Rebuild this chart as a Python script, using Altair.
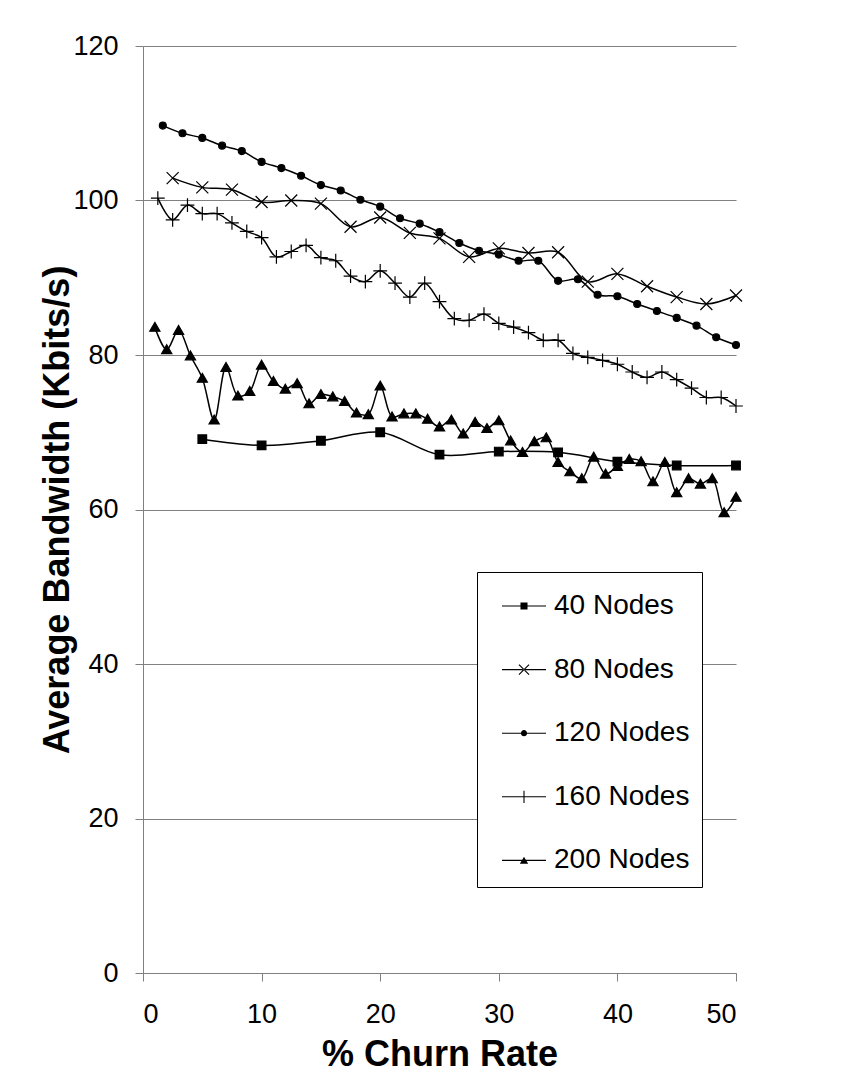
import altair as alt
import pandas as pd

series_names = ["40 Nodes", "80 Nodes", "120 Nodes", "160 Nodes", "200 Nodes"]

x40 = [5, 10, 15, 20, 25, 30, 35, 40, 45, 50]
y40 = [69.1, 68.3, 68.9, 70.0, 67.1, 67.5, 67.4, 66.2, 65.7, 65.7]

x80 = [2.5, 5, 7.5, 10, 12.5, 15, 17.5, 20, 22.5, 25, 27.5, 30, 32.5, 35, 37.5, 40,
       42.5, 45, 47.5, 50]
y80 = [102.9, 101.7, 101.4, 99.8, 100.0, 99.6, 96.6, 97.8, 95.8, 95.1, 92.7, 93.8,
       93.2, 93.3, 89.5, 90.5, 88.9, 87.5, 86.6, 87.7]

x120 = [1.67, 3.33, 5, 6.67, 8.33, 10, 11.67, 13.33, 15, 16.67, 18.33, 20, 21.67,
        23.33, 25, 26.67, 28.33, 30, 31.67, 33.33, 35, 36.67, 38.33, 40, 41.67, 43.33,
        45, 46.67, 48.33, 50]
y120 = [109.7, 108.7, 108.1, 107.1, 106.4, 105.0, 104.2, 103.2, 102.0, 101.3, 100.1,
        99.2, 97.7, 97.0, 95.9, 94.5, 93.5, 93.0, 92.2, 92.2, 89.6, 89.8, 87.8, 87.6,
        86.6, 85.7, 84.8, 83.8, 82.3, 81.3]

x160 = [1.25, 2.5, 3.75, 5, 6.25, 7.5, 8.75, 10, 11.25, 12.5, 13.75, 15, 16.25, 17.5,
        18.75, 20, 21.25, 22.5, 23.75, 25, 26.25, 27.5, 28.75, 30, 31.25, 32.5, 33.75,
        35, 36.25, 37.5, 38.75, 40, 41.25, 42.5, 43.75, 45, 46.25, 47.5, 48.75, 50]
y160 = [100.3, 97.5, 99.4, 98.3, 98.3, 97.1, 96.0, 95.2, 92.7, 93.4, 94.2, 92.6, 92.2,
        90.2, 89.5, 90.9, 89.3, 87.5, 89.3, 86.9, 84.7, 84.5, 85.3, 84.1, 83.6, 82.9,
        81.9, 81.9, 80.2, 79.7, 79.3, 78.8, 77.8, 77.1, 77.8, 76.8, 75.7, 74.5, 74.5,
        73.4]

x200 = [1, 2, 3, 4, 5, 6, 7, 8, 9, 10, 11, 12, 13, 14, 15, 16, 17, 18, 19, 20, 21, 22,
        23, 24, 25, 26, 27, 28, 29, 30, 31, 32, 33, 34, 35, 36, 37, 38, 39, 40, 41, 42,
        43, 44, 45, 46, 47, 48, 49, 50]
y200 = [83.6, 80.7, 83.2, 79.9, 77.0, 71.6, 78.4, 74.7, 75.3, 78.7, 76.6, 75.6, 76.3,
        73.7, 74.9, 74.6, 74.0, 72.5, 72.3, 76.0, 72.0, 72.4, 72.4, 71.7, 70.7, 71.6,
        69.8, 71.3, 70.5, 71.5, 68.9, 67.4, 68.8, 69.3, 66.1, 64.9, 64.0, 66.8, 64.6,
        65.6, 66.5, 66.2, 63.6, 66.1, 62.2, 64.0, 63.3, 64.0, 59.6, 61.6]

y_ticks = [0, 20, 40, 60, 80, 100, 120]
x_ticks = [0, 10, 20, 30, 40, 50]

rows = []
for name, xs, ys in zip(series_names, [x40, x80, x120, x160, x200],
                        [y40, y80, y120, y160, y200]):
    for xv, yv in zip(xs, ys):
        rows.append({"series": name, "churn": xv, "bw": yv})
df = pd.DataFrame(rows)

FONT = "Liberation Sans"

# marker shapes in the plot (all drawn at one size)
marker_paths = [
    "M-0.72,-0.72H0.72V0.72H-0.72Z",                                # square
    "M-1,-1L1,1M-1,1L1,-1",                                         # x
    "M-0.58,0A0.58,0.58 0 1,1 0.58,0A0.58,0.58 0 1,1 -0.58,0Z",     # circle
    "M-1.15,0L1.15,0M0,-1.15L0,1.15",                               # plus
    "M0,-0.8L0.85,0.68L-0.85,0.68Z",                                # triangle
]
# legend symbols: a short thin line (as a filled bar) with the marker on it
LINE = "M-1,-0.025H1V0.025H-1Z"
legend_paths = [
    LINE + "M-0.16,-0.16H0.16V0.16H-0.16Z",
    LINE + "M-0.248,-0.212L0.212,0.248L0.248,0.212L-0.212,-0.248Z"
           "M-0.248,0.212L0.212,-0.248L0.248,-0.212L-0.212,0.248Z",
    LINE + "M-0.14,0A0.14,0.14 0 1,1 0.14,0A0.14,0.14 0 1,1 -0.14,0Z",
    LINE + "M-0.025,-0.28H0.025V0.28H-0.025Z",
    LINE + "M0,-0.17L0.19,0.15L-0.19,0.15Z",
]

x_enc = alt.X("churn:Q", scale=alt.Scale(domain=[0, 50], nice=False),
              axis=alt.Axis(values=x_ticks, grid=False, title="% Churn Rate",
                            tickSize=8, labelPadding=20, titleBaseline="alphabetic",
                            titleY=92))
y_enc = alt.Y("bw:Q", scale=alt.Scale(domain=[0, 120], nice=False),
              axis=alt.Axis(values=y_ticks, grid=True, title="Average Bandwidth (Kbits/s)",
                            tickSize=8, labelPadding=17, titleAngle=270,
                            titleBaseline="alphabetic", titleAlign="center",
                            titleX=-75, titleY=463.5))

base = alt.Chart(df)

lines = base.mark_line(interpolate="catmull-rom", color="black", strokeWidth=1.5).encode(
    x=x_enc, y=y_enc, detail="series:N")

points = base.mark_point(filled=True, color="black", stroke="black", strokeWidth=1.2,
                         opacity=1, size=144).encode(
    x="churn:Q", y="bw:Q",
    shape=alt.Shape("series:N", scale=alt.Scale(domain=series_names, range=marker_paths),
                    legend=None))

legend_layer = base.mark_point(filled=True, color="black", opacity=0, size=10).encode(
    x="churn:Q", y="bw:Q",
    shape=alt.Shape("series:N", scale=alt.Scale(domain=series_names, range=legend_paths),
                    legend=alt.Legend(title=None, orient="none", legendX=334, legendY=526,
                                      fillColor="white", strokeColor="black",
                                      padding=12, symbolOffset=13, rowPadding=27.6,
                                      labelOffset=8, labelFontSize=28, labelFont=FONT,
                                      labelColor="black", symbolSize=1936,
                                      symbolOpacity=1, symbolStrokeWidth=0,
                                      symbolFillColor="black",
                                      labelLimit=400, cornerRadius=0)))

chart = alt.layer(lines, points, legend_layer).resolve_scale(shape="independent").properties(
    width=593, height=927,
    autosize=alt.AutoSizeParams(type="none"),
    padding={"left": 135, "top": 38, "right": 100, "bottom": 100},
    background="white",
).configure_axis(
    labelFont=FONT, labelFontSize=27, labelColor="black",
    titleFont=FONT, titleFontSize=36, titleFontWeight="bold", titleColor="black",
    domainColor="#808080", tickColor="#808080", gridColor="#808080",
    domainWidth=1, tickWidth=1, gridWidth=1,
).configure_view(stroke=None)

chart.save("out.html", embed_options={"renderer": "svg", "actions": False})
